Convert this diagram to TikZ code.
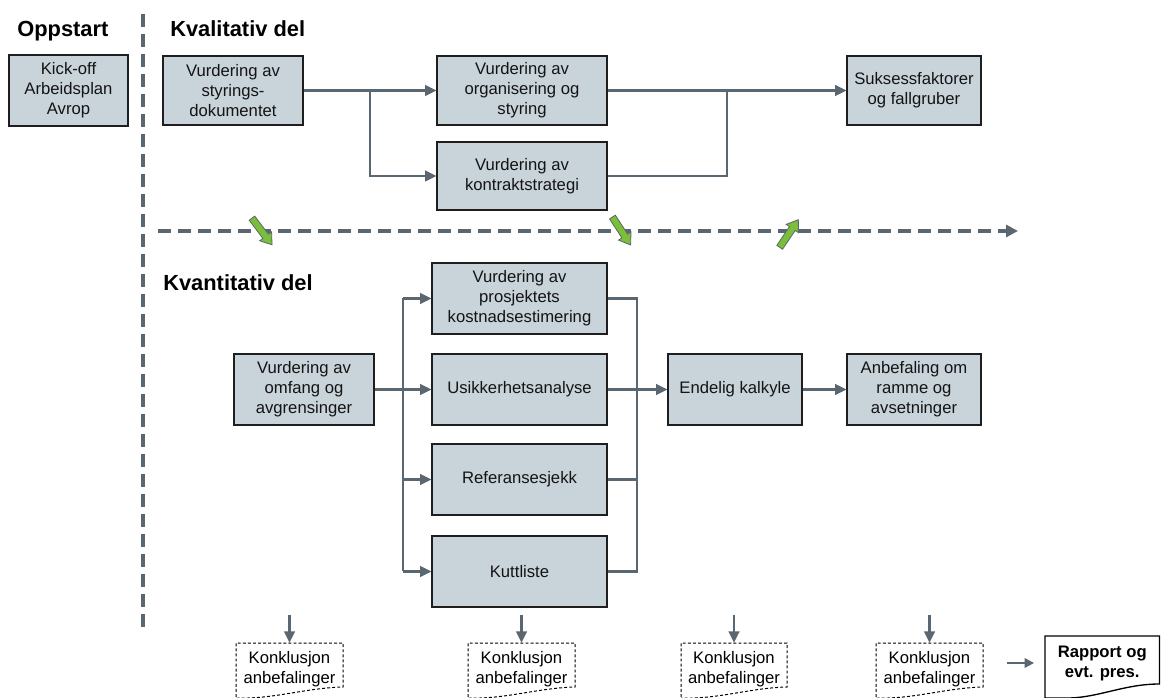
\documentclass[tikz,border=0pt]{standalone}
\usepackage{fontspec}
\setmainfont{Liberation Sans}
\usetikzlibrary{arrows.meta,calc}
\definecolor{lgray}{RGB}{91,103,112}
\definecolor{boxfill}{RGB}{200,211,218}
\definecolor{boxline}{RGB}{30,30,30}
\definecolor{garr}{RGB}{122,190,58}
\definecolor{txt}{RGB}{20,20,20}
% \bx[style]{name}{x1}{y1}{x2}{y2}{text}
\newcommand\bx[7][box]{%
  \node[#1, minimum width={(#5-#3)*0.75pt}, minimum height={(#6-#4)*0.75pt}]
    (#2) at ({(#3+#5)/2},{(#4+#6)/2}) {#7};
}
\newcommand\konkl[3]{%
  \bx[ktext]{#1}{#2}{643}{#3}{695}{Konklusjon\\anbefalinger}
  \draw[kdash] (#2,702) -- (#2,643) -- (#3,643) -- (#3,687)
     .. controls (#3-35,688) and (#2+45,697) .. (#2+12,698) -- (#2,698);
  \draw[conn,arr] ([yshift=21pt]#1.north) -- (#1.north);
}
\newcommand\garrow[3]{%
  \begin{scope}[shift={(#1,#2)}, rotate=#3]
    \draw[draw=lgray, fill=garr, line width=0.6pt, line join=miter]
      (-12.5pt,-2.6pt) -- (4.5pt,-2.6pt) -- (4.5pt,-5.6pt) -- (12.5pt,0pt)
      -- (4.5pt,5.6pt) -- (4.5pt,2.6pt) -- (-12.5pt,2.6pt) -- cycle;
  \end{scope}
}
\begin{document}
\begin{tikzpicture}[x=0.75pt,y=-0.75pt,
  box/.style={draw=boxline, line width=0.8pt, fill=boxfill, inner sep=0pt, align=center,
    text=txt, font=\fontsize{12.5}{15}\selectfont},
  conn/.style={draw=lgray, line width=1.75pt},
  arr/.style={-{Triangle[length=8.5pt,width=8pt]}},
  dline/.style={draw=lgray, line width=2.5pt, dash pattern=on 9.5pt off 5.5pt},
  head/.style={font=\fontsize{16.4}{20}\selectfont\bfseries, inner sep=0pt, anchor=base west, text=black},
  ktext/.style={inner sep=0pt, align=center, text=black, font=\fontsize{12.5}{15}\selectfont},
  kdash/.style={draw=black, line width=0.75pt, dash pattern=on 2.2pt off 1.6pt},
]
\useasboundingbox (0,0) rectangle (1161,698);
\clip (0,0) rectangle (1161,698);

% dashed separators
\draw[dline] (143,14) -- (143,632);
\draw[dline, -{Triangle[length=9pt,width=9pt]}] (158,231) -- (1018,231);

% headings
\node[head] (h1) at (17,37) {Oppstart};
\node[head] (h2) at (170,37) {Kvalitativ del};
\node[head] (h3) at (163,291) {Kvantitativ del};

% top boxes
\bx{kick}{9}{55}{128}{126}{Kick-off\\Arbeidsplan\\Avrop}
\bx{styr}{163}{56}{303}{125}{Vurdering av\\styrings-\\dokumentet}
\bx{org}{437}{56}{607}{125}{Vurdering av\\organisering og\\styring}
\bx{kon}{437}{142}{607}{210}{Vurdering av\\kontraktstrategi}
\bx{suk}{847}{56}{981}{125}{Suksessfaktorer\\og fallgruber}

\coordinate (j1) at (370,90.5);
\coordinate (j2) at (727,90.5);
\draw[conn] (styr.east) -- (j1);
\draw[conn,arr] (j1) -- (org.west);
\draw[conn,arr] (j1) |- (kon.west);
\draw[conn,arr] (org.east) -- (suk.west);
\draw[conn] (kon.east) -| (j2);

% green arrows
\garrow{262}{231.5}{-53}
\garrow{621.5}{231}{-57}
\garrow{789}{233.5}{56}

% lower boxes
\bx{pro}{432}{263}{607}{334}{Vurdering av\\prosjektets\\kostnadsestimering}
\bx{omf}{234}{354}{374}{425}{Vurdering av\\omfang og\\avgrensinger}
\bx{usi}{432}{354}{607}{425}{Usikkerhetsanalyse}
\bx{ref}{432}{444}{607}{515}{Referansesjekk}
\bx{kut}{432}{536}{607}{607}{Kuttliste}
\bx{end}{668}{354}{802}{425}{Endelig kalkyle}
\bx{anb}{847}{354}{981}{425}{Anbefaling om\\ramme og\\avsetninger}

\coordinate (lx) at (403,0);
\coordinate (rx) at (637,0);
\draw[conn] (lx |- pro.west) -- (lx |- kut.west);
\draw[conn,arr] (lx |- pro.west) -- (pro.west);
\draw[conn,arr] (lx |- ref.west) -- (ref.west);
\draw[conn,arr] (lx |- kut.west) -- (kut.west);
\draw[conn,arr] (omf.east) -- (usi.west);
\draw[conn] (pro.east) -- (rx |- pro.east) -- (rx |- kut.east) -- (kut.east);
\draw[conn] (ref.east) -- (rx |- ref.east);
\draw[conn,arr] (usi.east) -- (end.west);
\draw[conn,arr] (end.east) -- (anb.west);

% bottom conclusions
\konkl{k1}{236}{343}
\konkl{k2}{468}{575}
\konkl{k3}{681}{787}
\konkl{k4}{876}{983}

\bx[ktext, font=\fontsize{12.5}{15}\selectfont\bfseries]{rap}{1045}{636}{1159.5}{690}{Rapport og\\evt. pres.}
\draw[black, line width=1pt] (1045,702) -- (1045,636) -- (1159.5,636) -- (1159.5,684)
   .. controls (1125,684) and (1100,697) .. (1070,698) -- (1045,698);
\draw[conn, line width=1.5pt, -{Triangle[length=7pt,width=7pt]}, shorten <=18pt, shorten >=8pt]
   (rap.west -| k4.east) -- (rap.west);
\end{tikzpicture}
\end{document}
